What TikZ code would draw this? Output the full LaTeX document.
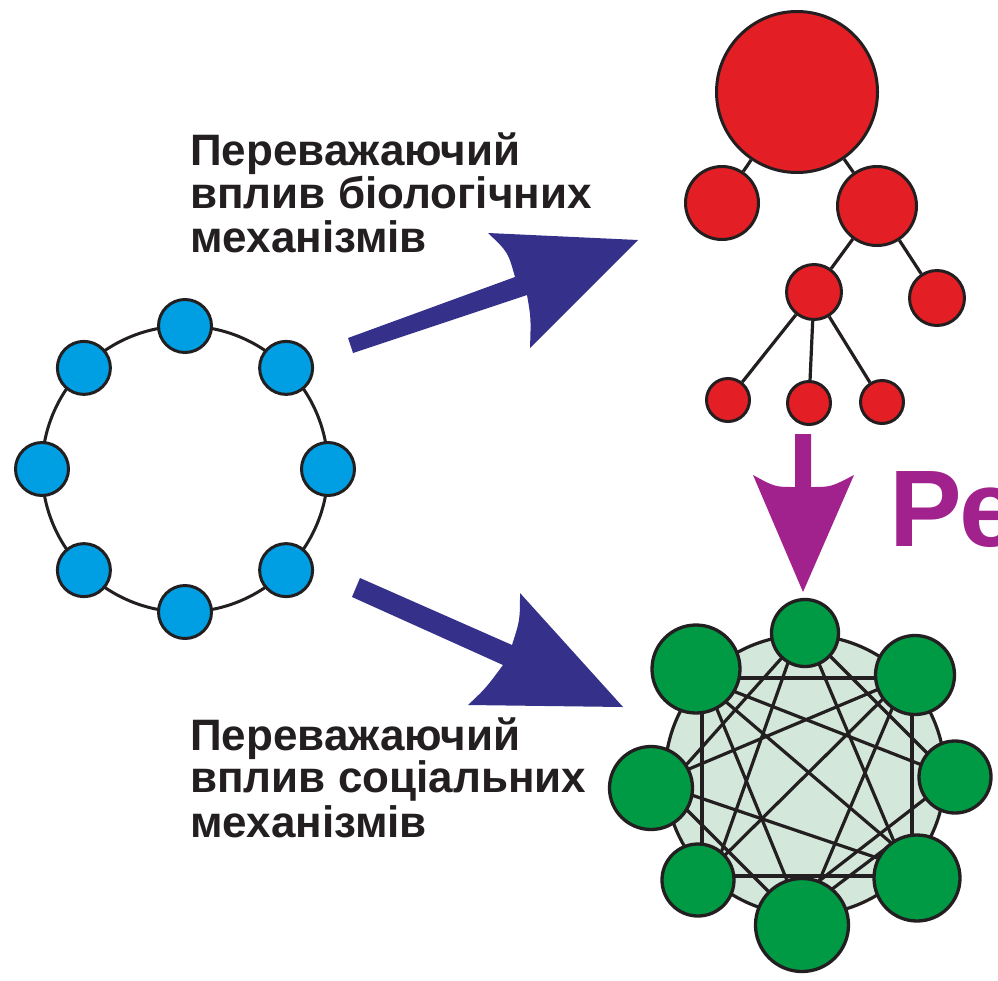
\documentclass[tikz,border=0pt]{standalone}
\usepackage{fontspec}
\setmainfont{Liberation Sans}
\usetikzlibrary{calc}
\definecolor{ink}{HTML}{231F20}
\definecolor{bluefill}{HTML}{009FE3}
\definecolor{redfill}{HTML}{E31E24}
\definecolor{greenfill}{HTML}{009A44}
\definecolor{paleg}{HTML}{D3E8DA}
\definecolor{arrowblue}{HTML}{35318A}
\definecolor{purp}{HTML}{A1228D}
\begin{document}
\begin{tikzpicture}[x=1pt,y=-1pt,
  bnode/.style={circle, draw=ink, line width=3pt, fill=bluefill, inner sep=0pt, minimum size=53pt},
  rnode/.style={circle, draw=ink, line width=3pt, fill=redfill, inner sep=0pt},
  gnode/.style={circle, draw=ink, line width=3.3pt, fill=greenfill, inner sep=0pt},
  treeline/.style={draw=ink, line width=3.2pt},
  netline/.style={draw=ink, line width=3.2pt},
  lbl/.style={anchor=base west, inner sep=0pt, text=ink, font=\fontsize{44}{44}\selectfont\bfseries}]
\useasboundingbox (0,0) rectangle (998,980);
\fill[white] (0,0) rectangle (998,980);
\clip (0,0) rectangle (998,980);

% ---------- labels ----------
\node[lbl] (t1a) at (190,165) {Переважаючий};
\node[lbl] (t1b) at (190,208) {вплив біологічних};
\node[lbl] (t1c) at (190,252) {механізмів};
\node[lbl] (t2a) at (190,750) {Переважаючий};
\node[lbl] (t2b) at (190,792) {вплив соціальних};
\node[lbl] (t2c) at (190,837) {механізмів};

% ---------- blue ring ----------
\coordinate (ringc) at (185,469);
\draw[ink, line width=3pt] (ringc) circle[radius=143pt];
\foreach \i/\a in {1/90,2/45,3/0,4/-45,5/-90,6/-135,7/180,8/135}{
  \node[bnode] (b\i) at ($(ringc)+(\a:143pt)$) {};
}

% ---------- red tree ----------
\node[rnode, minimum size=161pt] (root) at (797,92) {};
\node[rnode, minimum size=73pt] (lc) at (722,203) {};
\node[rnode, minimum size=79pt] (rc) at (877,206) {};
\node[rnode, minimum size=55pt] (mid) at (814,292) {};
\node[rnode, minimum size=55pt] (rleaf) at (937,298) {};
\node[rnode, minimum size=43pt] (leaf1) at (728,400) {};
\node[rnode, minimum size=43pt] (leaf2) at (809,403) {};
\node[rnode, minimum size=43pt] (leaf3) at (882,402) {};
\draw[treeline] (root) -- (lc);
\draw[treeline] (root) -- (rc);
\draw[treeline] (rc) -- (mid);
\draw[treeline] (rc) -- (rleaf);
\draw[treeline] (mid) -- (leaf1);
\draw[treeline] (mid) -- (leaf2);
\draw[treeline] (mid) -- (leaf3);

% ---------- arrows ----------
\fill[arrowblue] (348,338) -- (515,277) .. controls (508,252) .. (488,233)
  -- (638,240) -- (530,348) .. controls (531,318) .. (527,295) -- (353,353) -- cycle;
\fill[arrowblue] (360,578) -- (512,645) .. controls (520,620) .. (520,593)
  -- (623,707) -- (468,705) .. controls (486,688) .. (503,665) -- (352,597) -- cycle;
\fill[purp] (795,434) -- (811,434) -- (811,487) .. controls (831,487) .. (854,475)
  -- (803,592) -- (753,475) .. controls (775,487) .. (795,487) -- cycle;
\node[anchor=base west, inner sep=0pt, text=purp, font=\fontsize{109}{109}\selectfont\bfseries] (res) at (889,546) {Ре};

% ---------- green network ----------
\coordinate (gT) at (805,633);
\coordinate (gUL) at (696,669);
\coordinate (gUR) at (915,675);
\coordinate (gL) at (651,788);
\coordinate (gR) at (955,777);
\coordinate (gLL) at (698,880);
\coordinate (gB) at (802,925);
\coordinate (gLR) at (917,878);
\draw[ink, fill=paleg, line width=3.2pt] (805,775) circle[radius=140pt];
\draw[netline] ([shift={(4,9)}]gUL) -- ([shift={(-5,3)}]gUR);
\draw[netline] ([shift={(6,1)}]gUL) -- ([shift={(4,0)}]gLL);
\draw[netline] ([shift={(-3,5)}]gUR) -- ([shift={(-5,0)}]gLR);
\draw[netline] ([shift={(2,-4)}]gLL) -- ([shift={(-2,-2)}]gLR);
\draw[netline] ([shift={(-10,10)}]gT) -- ([shift={(19,-5)}]gL);
\draw[netline] ([shift={(-9,7)}]gT) -- ([shift={(17,-10)}]gLL);
\draw[netline] ([shift={(4,7)}]gT) -- ([shift={(-11,-8)}]gLR);
\draw[netline] ([shift={(10,8)}]gT) -- ([shift={(-5,-1)}]gR);
\draw[netline] ([shift={(9,11)}]gUL) -- ([shift={(-7,-25)}]gB);
\draw[netline] ([shift={(9,15)}]gUL) -- ([shift={(-7,-19)}]gLR);
\draw[netline] ([shift={(9,11)}]gUL) -- ([shift={(-5,-1)}]gR);
\draw[netline] ([shift={(19,-11)}]gL) -- ([shift={(-10,3)}]gUR);
\draw[netline] ([shift={(-15,7)}]gUR) -- ([shift={(10,-8)}]gLL);
\draw[netline] ([shift={(-15,15)}]gUR) -- ([shift={(7,-20)}]gB);
\draw[netline] ([shift={(14,-2)}]gL) -- ([shift={(-7,-9)}]gLR);
\draw[netline] ([shift={(14,0)}]gL) -- ([shift={(-12,-12)}]gB);
\draw[netline] ([shift={(8,-37)}]gB) -- ([shift={(-7,4)}]gR);
\draw[netline] ([shift={(13,-23)}]gB) -- ([shift={(-24,-35)}]gLR);
\node[gnode, minimum size=67pt] (T) at (gT) {};
\node[gnode, minimum size=88pt] (UL) at (gUL) {};
\node[gnode, minimum size=79pt] (UR) at (gUR) {};
\node[gnode, minimum size=83pt] (L) at (gL) {};
\node[gnode, minimum size=72pt] (R) at (gR) {};
\node[gnode, minimum size=72pt] (LL) at (gLL) {};
\node[gnode, minimum size=93pt] (B) at (gB) {};
\node[gnode, minimum size=86pt] (LR) at (gLR) {};
\end{tikzpicture}
\end{document}
